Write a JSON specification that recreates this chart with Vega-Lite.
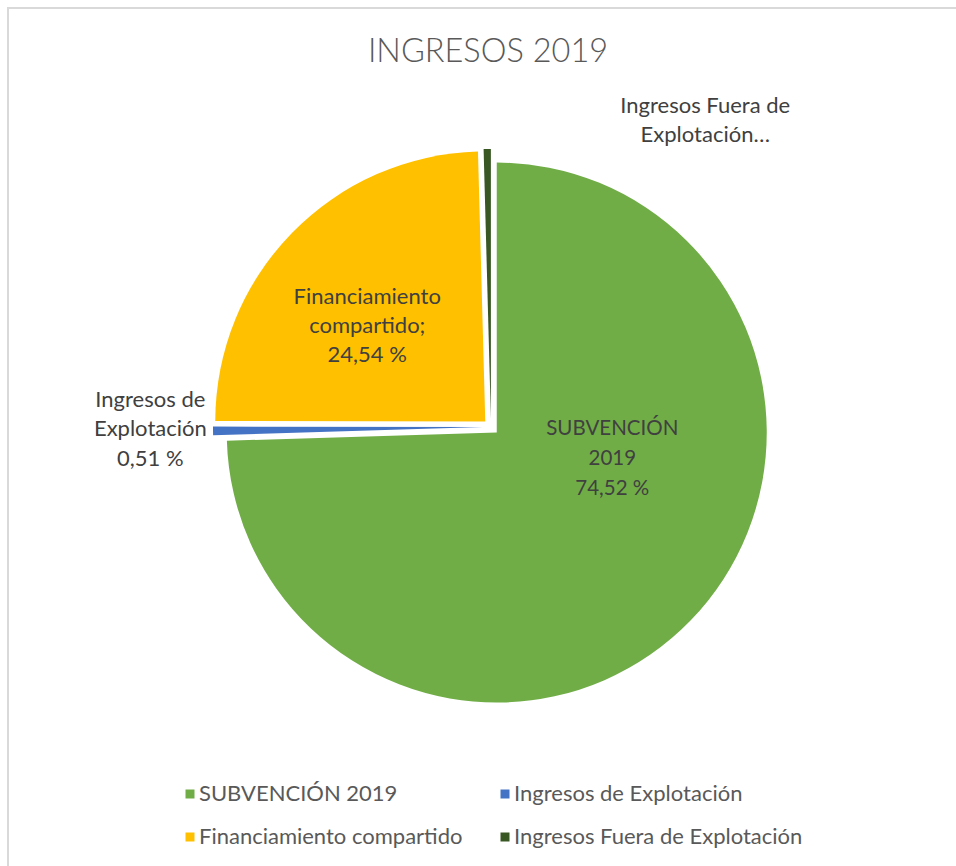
{
  "$schema": "https://vega.github.io/schema/vega-lite/v6.json",
  "width": 966,
  "height": 870,
  "autosize": {"type": "none"},
  "padding": {"left": 8, "top": 8, "right": 0, "bottom": 0},
  "background": "white",
  "view": {"stroke": "#d9d9d9", "strokeWidth": 2},
  "title": {"text": "INGRESOS 2019", "font": "Lato", "fontSize": 32.5, "fontWeight": 300, "color": "#595959", "anchor": "middle", "offset": -60, "dx": -3},
  "data": {"values": [
    {"cat": "SUBVENCIÓN 2019", "value": 74.52, "order": 1, "label": "SUBVENCIÓN\n2019\n74,52 %"},
    {"cat": "Ingresos de Explotación", "value": 0.51, "order": 2, "label": "Ingresos de\nExplotación\n0,51 %"},
    {"cat": "Financiamiento compartido", "value": 24.54, "order": 3, "label": "Financiamiento\ncompartido;\n24,54 %"},
    {"cat": "Ingresos Fuera de Explotación", "value": 0.43, "order": 4, "label": "Ingresos Fuera de\nExplotación…"}
  ]},
  "transform": [
    {"stack": "value", "groupby": [], "sort": [{"field": "order", "order": "ascending"}], "as": ["start", "end"]}
  ],
  "layer": [
    {
      "transform": [{"filter": "datum.cat === 'SUBVENCIÓN 2019'"}],
      "mark": {"type": "arc", "radius": 270, "xOffset": 5.75, "yOffset": -10.44},
      "encoding": {
        "theta": {"field": "start", "type": "quantitative", "scale": {"domain": [0, 100]}},
        "theta2": {"field": "end"},
        "color": {
          "field": "cat", "type": "nominal",
          "scale": {"domain": ["SUBVENCIÓN 2019", "Ingresos de Explotación", "Financiamiento compartido", "Ingresos Fuera de Explotación"], "range": ["#70AD47", "#4472C4", "#FFC000", "#385723"]},
          "legend": {"orient": "none", "direction": "horizontal", "legendX": 171, "legendY": 775, "columns": 2, "columnPadding": 31, "rowPadding": 21, "symbolType": "square", "symbolSize": 81, "symbolStrokeWidth": 0, "labelFont": "Lato", "labelFontSize": 22, "labelColor": "#595959", "labelOffset": -2, "labelLimit": 500, "title": null}
        }
      }
    },
    {
      "transform": [{"filter": "datum.cat === 'Ingresos de Explotación'"}],
      "mark": {"type": "arc", "radius": 270, "xOffset": -8, "yOffset": -15.89},
      "encoding": {
        "theta": {"field": "start", "type": "quantitative"},
        "theta2": {"field": "end"},
        "color": {"field": "cat", "type": "nominal"}
      }
    },
    {
      "transform": [{"filter": "datum.cat === 'Financiamiento compartido'"}],
      "mark": {"type": "arc", "radius": 270, "xOffset": -5.74, "yOffset": -21.58},
      "encoding": {
        "theta": {"field": "start", "type": "quantitative"},
        "theta2": {"field": "end"},
        "color": {"field": "cat", "type": "nominal"}
      }
    },
    {
      "transform": [{"filter": "datum.cat === 'Ingresos Fuera de Explotación'"}],
      "mark": {"type": "arc", "radius": 270, "xOffset": -0.11, "yOffset": -24},
      "encoding": {
        "theta": {"field": "start", "type": "quantitative"},
        "theta2": {"field": "end"},
        "color": {"field": "cat", "type": "nominal"}
      }
    },
    {
      "mark": {"type": "text", "radius": 100, "dx": 49.5, "dy": -83.6, "font": "Lato", "fontSize": 20.5, "lineBreak": "\n", "lineHeight": 30, "color": "#404040", "align": "center", "baseline": "middle"},
      "encoding": {
        "theta": {"field": "value", "type": "quantitative", "stack": true},
        "order": {"field": "order", "type": "quantitative"},
        "text": {"condition": {"test": "datum.cat === 'SUBVENCIÓN 2019'", "field": "label", "type": "nominal"}, "value": ""}
      }
    },
    {
      "mark": {"type": "text", "radius": 160, "dx": -9.2, "dy": -34.3, "font": "Lato", "fontSize": 22, "lineBreak": "\n", "lineHeight": 29, "color": "#404040", "align": "center", "baseline": "middle"},
      "encoding": {
        "theta": {"field": "value", "type": "quantitative", "stack": true},
        "order": {"field": "order", "type": "quantitative"},
        "text": {"condition": {"test": "datum.cat === 'Financiamiento compartido'", "field": "label", "type": "nominal"}, "value": ""}
      }
    },
    {
      "mark": {"type": "text", "radius": 340, "dx": -0.7, "dy": -48, "font": "Lato", "fontSize": 22, "lineBreak": "\n", "lineHeight": 29.5, "color": "#404040", "align": "center", "baseline": "middle"},
      "encoding": {
        "theta": {"field": "value", "type": "quantitative", "stack": true},
        "order": {"field": "order", "type": "quantitative"},
        "text": {"condition": {"test": "datum.cat === 'Ingresos de Explotación'", "field": "label", "type": "nominal"}, "value": ""}
      }
    },
    {
      "mark": {"type": "text", "radius": 306, "dx": 218.4, "dy": -31, "font": "Lato", "fontSize": 22, "lineBreak": "\n", "lineHeight": 29, "color": "#404040", "align": "center", "baseline": "middle"},
      "encoding": {
        "theta": {"field": "value", "type": "quantitative", "stack": true},
        "order": {"field": "order", "type": "quantitative"},
        "text": {"condition": {"test": "datum.cat === 'Ingresos Fuera de Explotación'", "field": "label", "type": "nominal"}, "value": ""}
      }
    }
  ]
}
